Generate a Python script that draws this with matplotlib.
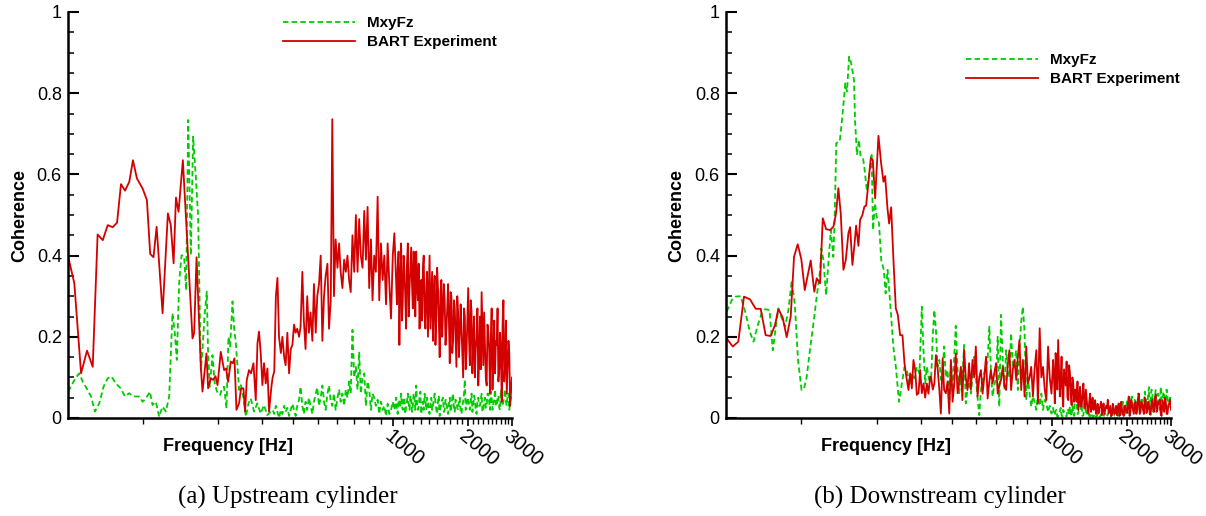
import matplotlib
matplotlib.use("Agg")
import matplotlib.pyplot as plt
from matplotlib.ticker import FixedLocator, NullFormatter
from matplotlib.lines import Line2D

plt.rcParams['font.family'] = ['Liberation Sans', 'DejaVu Sans']

# ---- common frequency bins above 330 Hz (shared by all four curves)
freq_hi = [330, 335, 340, 345, 350, 356, 361, 367, 372, 378, 384, 390, 396,
           402, 408, 414, 421, 427, 434, 440, 447, 454, 461, 468, 476, 483, 491, 498,
           506, 514, 522, 530, 538, 547, 555, 564, 572, 581, 590,
           600, 609, 618, 628, 638, 648, 658, 668, 678, 689,
           700, 711, 722, 733, 744, 756, 768, 780, 792,
           804, 817, 829, 842, 855, 869, 882, 896,
           910, 924, 939, 953, 968, 983, 999,
           1014, 1030, 1046, 1062, 1079, 1096, 1113, 1130, 1148, 1166, 1184,
           1202, 1221, 1240, 1259, 1279, 1299, 1319, 1340, 1361, 1382,
           1403, 1425, 1447, 1470, 1493, 1516, 1540, 1564, 1588,
           1613, 1638, 1664, 1690, 1716, 1743, 1770, 1797,
           1825, 1854, 1883, 1912, 1942, 1972,
           2003, 2034, 2066, 2098, 2131, 2164, 2198,
           2232, 2267, 2302, 2338, 2375,
           2412, 2449, 2487, 2526, 2566,
           2606, 2646, 2688, 2729, 2772,
           2815, 2859, 2904, 2949, 3000]

# extra bins between the ones above, 1000-3000 Hz, where the spectra get dense
freq_mid = [1022, 1038, 1054, 1070, 1087, 1104, 1121, 1139, 1157, 1175, 1193,
            1211, 1230, 1249, 1269, 1289, 1309, 1329, 1350, 1371, 1392,
            1414, 1436, 1458, 1481, 1504, 1528, 1552, 1576, 1600,
            1625, 1651, 1677, 1703, 1729, 1756, 1783, 1811,
            1839, 1868, 1897, 1927, 1957, 1987,
            2018, 2050, 2082, 2114, 2147, 2181, 2215,
            2249, 2284, 2320, 2356, 2393,
            2430, 2468, 2506, 2546, 2586,
            2626, 2667, 2708, 2750, 2793,
            2837, 2881, 2926, 2975]

# ---- (a) upstream cylinder, BART experiment
up_exp_f_lo = [50, 53, 56.4, 59.6, 62.8, 65.7, 68.9, 72.1, 75.5, 78.6, 81.5, 84.6, 88, 91,
               94.4, 99.5, 103.5, 106.7, 110, 113.2, 119.6, 125.6, 129, 132.4, 135.3, 138.6,
               144.2, 157.6, 160, 163.6, 170.2, 172.8, 176.5, 179.3, 182, 186.6, 190.5, 194.9,
               198.5, 204.6, 210.9, 214.8, 218.8, 224.3, 228.5, 232.1, 236.4, 242.1, 246.6,
               252.1, 255.9, 260, 265.5, 270.4, 276.5, 282.4, 286.9, 291.1, 295.7, 300.3,
               304.8, 309.6, 314.5, 319.2, 326.3]
up_exp_c_lo = [0.399, 0.332, 0.110, 0.166, 0.126, 0.452, 0.438, 0.475, 0.470, 0.481, 0.576,
               0.560, 0.582, 0.635, 0.590, 0.565, 0.537, 0.404, 0.396, 0.471, 0.258, 0.504,
               0.475, 0.381, 0.543, 0.508, 0.635, 0.196, 0.209, 0.396, 0.126, 0.065, 0.118,
               0.159, 0.073, 0.098, 0.094, 0.103, 0.081, 0.163, 0.118, 0.122, 0.089, 0.139,
               0.135, 0.147, 0.020, 0.036, 0.073, 0.073, 0.016, 0.094, 0.118, 0.110, 0.135,
               0.044, 0.184, 0.213, 0.159, 0.081, 0.135, 0.085, 0.122, 0.016, 0.077]
up_exp_c_hi = [0.10, 0.115, 0.30, 0.345, 0.20, 0.16, 0.20, 0.15, 0.13, 0.21, 0.11, 0.17, 0.18,
               0.23, 0.21, 0.22, 0.20, 0.225, 0.36, 0.24, 0.17, 0.30, 0.21, 0.26, 0.19, 0.33, 0.21, 0.30,
               0.33, 0.40, 0.19, 0.30, 0.35, 0.38, 0.22, 0.29, 0.736, 0.30, 0.44,
               0.37, 0.43, 0.36, 0.32, 0.39, 0.36, 0.40, 0.34, 0.31, 0.45,
               0.36, 0.50, 0.36, 0.49, 0.40, 0.37, 0.51, 0.39, 0.52,
               0.32, 0.44, 0.29, 0.40, 0.36, 0.545, 0.29, 0.43,
               0.34, 0.40, 0.28, 0.43, 0.33, 0.245, 0.40,
               0.455, 0.34, 0.37, 0.18, 0.43, 0.29, 0.36, 0.22, 0.43, 0.32, 0.42,
               0.27, 0.36, 0.41, 0.29, 0.22, 0.34, 0.37, 0.26, 0.32, 0.20,
               0.40, 0.29, 0.19, 0.35, 0.25, 0.32, 0.15, 0.34, 0.26,
               0.29, 0.22, 0.33, 0.135, 0.30, 0.19, 0.27, 0.126,
               0.26, 0.21, 0.22, 0.10, 0.25, 0.16,
               0.32, 0.13, 0.26, 0.19, 0.10, 0.20, 0.08,
               0.25, 0.31, 0.13, 0.18, 0.08,
               0.21, 0.06, 0.27, 0.15, 0.11,
               0.18, 0.09, 0.21, 0.04, 0.29,
               0.13, 0.06, 0.19, 0.03, 0.10]
up_exp_c_mid = [0.40, 0.28, 0.41, 0.33, 0.24, 0.40, 0.30, 0.38, 0.25, 0.37, 0.33,
                0.41, 0.25, 0.33, 0.38, 0.30, 0.24, 0.40, 0.22, 0.36, 0.30,
                0.22, 0.36, 0.30, 0.18, 0.37, 0.24, 0.31, 0.20, 0.33,
                0.18, 0.27, 0.24, 0.31, 0.16, 0.29, 0.20, 0.30,
                0.15, 0.28, 0.17, 0.27, 0.12, 0.24,
                0.20, 0.29, 0.11, 0.25, 0.17, 0.27, 0.14,
                0.12, 0.22, 0.26, 0.10, 0.23,
                0.17, 0.20, 0.07, 0.24, 0.19,
                0.27, 0.12, 0.16, 0.23, 0.09,
                0.24, 0.12, 0.16, 0.07]

# ---- (a) upstream cylinder, MxyFz
up_sim_f_lo = [50, 53.8, 55.5, 57.3, 59.9, 61.8, 64.1, 66.7, 69.4, 72.1, 74.7, 77.7, 81.4,
               84.5, 87.9, 91.5, 96.4, 99.5, 102.5, 106.4, 109, 112.4, 115.9, 119.5, 123.3,
               127.1, 131, 133.9, 136.4, 139.3, 142.4, 145.9, 148.6, 151.5, 155.2, 158.5,
               162.5, 166, 170.2, 172.8, 176, 179.8, 182, 184.8, 189.5, 193.5, 198.5, 203.4,
               207, 210.9, 215.6, 219.6, 223, 227.9, 231.4, 235, 238.8, 242.4, 246.2, 252.4,
               257.8, 264.1, 269.7, 277.9, 286.6, 295.6, 304.8, 314, 324.5]
up_sim_c_lo = [0.065, 0.10, 0.11, 0.089, 0.069, 0.053, 0.016, 0.036, 0.077, 0.098, 0.102,
               0.085, 0.073, 0.053, 0.061, 0.053, 0.053, 0.040, 0.048, 0.065, 0.032, 0.040,
               0.003, 0.028, 0.016, 0.053, 0.258, 0.209, 0.143, 0.332, 0.401, 0.397, 0.315,
               0.734, 0.401, 0.693, 0.594, 0.496, 0.118, 0.167, 0.25, 0.311, 0.159, 0.077,
               0.155, 0.085, 0.061, 0.057, 0.073, 0.077, 0.024, 0.200, 0.176, 0.287, 0.221,
               0.184, 0.126, 0.069, 0.081, 0.048, 0.003, 0.036, 0.048, 0.016, 0.036, 0.011,
               0.032, 0.007, 0.016]
up_sim_c_hi = [0.02, 0.01, 0.03, 0.015, 0.0, 0.02, 0.01, 0.03, 0.015, 0.025, 0.005, 0.02, 0.035,
               0.02, 0.005, 0.03, 0.045, 0.077, 0.03, 0.01, 0.04, 0.02, 0.05, 0.03, 0.01, 0.04, 0.06, 0.075,
               0.03, 0.05, 0.08, 0.04, 0.02, 0.06, 0.08, 0.04, 0.03, 0.06, 0.02,
               0.05, 0.07, 0.04, 0.06, 0.03, 0.07, 0.05, 0.09, 0.06, 0.217,
               0.10, 0.126, 0.07, 0.163, 0.06, 0.10, 0.11, 0.03, 0.09,
               0.07, 0.02, 0.06, 0.05, 0.03, 0.045, 0.01, 0.04,
               0.02, 0.03, 0.005, 0.035, 0.01, 0.02, 0.04,
               0.02, 0.05, 0.01, 0.04, 0.06, 0.02, 0.05, 0.03, 0.06, 0.02, 0.045,
               0.03, 0.05, 0.08, 0.02, 0.05, 0.01, 0.04, 0.06, 0.02, 0.04,
               0.01, 0.05, 0.03, 0.06, 0.02, 0.04, 0.005, 0.035, 0.05,
               0.02, 0.04, 0.01, 0.05, 0.03, 0.06, 0.015, 0.04,
               0.02, 0.05, 0.01, 0.04, 0.094, 0.03,
               0.05, 0.02, 0.06, 0.03, 0.045, 0.01, 0.05,
               0.03, 0.06, 0.02, 0.05, 0.03,
               0.06, 0.02, 0.05, 0.035, 0.07,
               0.03, 0.055, 0.02, 0.06, 0.04,
               0.07, 0.03, 0.06, 0.04, 0.07]
up_sim_c_mid = [0.035, 0.015, 0.045, 0.025, 0.03, 0.05, 0.01, 0.04, 0.035, 0.055, 0.015,
                0.06, 0.02, 0.04, 0.03, 0.065, 0.025, 0.02, 0.045, 0.05, 0.015,
                0.035, 0.02, 0.045, 0.04, 0.01, 0.055, 0.025, 0.045, 0.015,
                0.045, 0.02, 0.035, 0.015, 0.05, 0.02, 0.045, 0.025,
                0.04, 0.015, 0.03, 0.06, 0.02, 0.045,
                0.03, 0.04, 0.015, 0.055, 0.02, 0.04, 0.03,
                0.045, 0.015, 0.04, 0.025, 0.06,
                0.04, 0.065, 0.02, 0.045, 0.03,
                0.05, 0.025, 0.07, 0.03, 0.055,
                0.04, 0.06, 0.02, 0.05]

# ---- (b) downstream cylinder, BART experiment
dn_exp_f_lo = [50.3, 53.2, 56, 59, 62.4, 65.7, 68.8, 72, 75.4, 78.5, 80.9, 84.2, 87.4, 90.7,
               93.5, 96.7, 100, 103.2, 109, 112.7, 115.2, 118.8, 121.8, 125.6, 130.2, 134.3,
               137.6, 140.6, 143.7, 147.3, 150.5, 154.2, 156.6, 160, 163, 165.5, 169.1, 171.7,
               175.4, 178.7, 181.5, 185.4, 189.5, 193, 197.2, 203.3, 208.4, 212.9, 216.2,
               220.9, 224.3, 228.5, 233.4, 238.5, 243, 248.2, 253.6, 258.3, 263.9, 268,
               272.2, 276.4, 280.6, 285, 289.4, 293.9, 298.4, 303, 307.7, 312.5, 317.3, 322,
               327.2]
dn_exp_c_lo = [0.196, 0.176, 0.188, 0.299, 0.292, 0.269, 0.269, 0.204, 0.202, 0.229, 0.268,
               0.248, 0.199, 0.250, 0.397, 0.428, 0.391, 0.315, 0.388, 0.311, 0.344, 0.332,
               0.492, 0.465, 0.463, 0.471, 0.504, 0.566, 0.504, 0.365, 0.389, 0.455, 0.470,
               0.377, 0.426, 0.474, 0.424, 0.488, 0.500, 0.521, 0.523, 0.582, 0.640, 0.636,
               0.541, 0.695, 0.627, 0.582, 0.596, 0.516, 0.479, 0.519, 0.389, 0.270, 0.254,
               0.204, 0.204, 0.135, 0.094, 0.069, 0.110, 0.073, 0.143, 0.118, 0.057, 0.061,
               0.118, 0.061, 0.085, 0.05, 0.085, 0.06, 0.102]
dn_exp_c_hi = [0.10, 0.07, 0.085, 0.155, 0.126, 0.07, 0.011, 0.147, 0.069, 0.061, 0.09, 0.011, 0.143,
               0.04, 0.08, 0.159, 0.061, 0.09, 0.126, 0.044, 0.167, 0.10, 0.069, 0.135, 0.07, 0.143, 0.10, 0.176,
               0.053, 0.10, 0.118, 0.06, 0.10, 0.151, 0.048, 0.09, 0.118, 0.085, 0.11,
               0.135, 0.06, 0.08, 0.094, 0.126, 0.08, 0.069, 0.13, 0.167, 0.069,
               0.12, 0.143, 0.094, 0.15, 0.192, 0.069, 0.143, 0.053, 0.176,
               0.085, 0.10, 0.126, 0.053, 0.12, 0.167, 0.036, 0.221,
               0.10, 0.126, 0.07, 0.044, 0.176, 0.10, 0.06,
               0.143, 0.036, 0.12, 0.192, 0.053, 0.151, 0.028, 0.10, 0.139, 0.044, 0.11,
               0.032, 0.085, 0.069, 0.04, 0.02, 0.077, 0.028, 0.085, 0.024, 0.044,
               0.011, 0.06, 0.03, 0.02, 0.044, 0.02, 0.011, 0.028, 0.007,
               0.036, 0.02, 0.024, 0.011, 0.03, 0.007, 0.025, 0.015,
               0.007, 0.036, 0.012, 0.02, 0.005, 0.03,
               0.012, 0.053, 0.015, 0.03, 0.01, 0.04, 0.02,
               0.06, 0.015, 0.035, 0.01, 0.044,
               0.02, 0.03, 0.008, 0.045, 0.015,
               0.057, 0.02, 0.035, 0.01, 0.044,
               0.015, 0.04, 0.01, 0.036, 0.02]
dn_exp_c_mid = [0.10, 0.16, 0.07, 0.13, 0.09, 0.06, 0.12, 0.08, 0.05, 0.13, 0.06,
                0.10, 0.04, 0.07, 0.09, 0.05, 0.03, 0.06, 0.04, 0.07, 0.02,
                0.04, 0.015, 0.05, 0.03, 0.01, 0.035, 0.025, 0.04, 0.02,
                0.01, 0.03, 0.045, 0.02, 0.005, 0.035, 0.01, 0.03,
                0.025, 0.005, 0.04, 0.01, 0.03, 0.015,
                0.035, 0.005, 0.045, 0.02, 0.035, 0.01, 0.05,
                0.01, 0.04, 0.02, 0.05, 0.012,
                0.04, 0.01, 0.035, 0.02, 0.05,
                0.015, 0.04, 0.045, 0.005, 0.03,
                0.05, 0.01, 0.03, 0.045]

# ---- (b) downstream cylinder, MxyFz
dn_sim_f_lo = [50.3, 52.8, 54.5, 57.2, 59.9, 62.2, 64.4, 66.7, 69.4, 71.6, 74.6, 76.9, 79.4,
               81, 83.6, 86.1, 88.8, 91.6, 94.1, 97, 100.2, 102.5, 105, 108.2, 111.8, 115.2,
               118.9, 120.2, 122.5, 125.6, 128.2, 131.2, 134.2, 135.8, 137.9, 142.4, 146,
               149.8, 152.2, 155.2, 158.2, 162.3, 163.9, 166.8, 169.9, 172.2, 176.4, 178.4,
               182.6, 186.2, 190.9, 193.4, 196.9, 200, 204.4, 208.6, 213.5, 217.2, 221.1,
               225, 229.6, 233.1, 238.6, 241.8, 245.6, 258.3, 263.9, 270.4, 276.4, 282.4,
               289.4, 296.5, 303, 307.7, 312.5, 317.3, 324.2]
dn_sim_c_lo = [0.262, 0.291, 0.299, 0.300, 0.258, 0.213, 0.188, 0.225, 0.258, 0.268, 0.266,
               0.167, 0.233, 0.270, 0.245, 0.225, 0.266, 0.340, 0.282, 0.143, 0.069, 0.073,
               0.10, 0.167, 0.233, 0.299, 0.365, 0.418, 0.389, 0.303, 0.381, 0.463, 0.397,
               0.484, 0.677, 0.681, 0.746, 0.824, 0.804, 0.890, 0.874, 0.833, 0.734, 0.648,
               0.685, 0.648, 0.640, 0.619, 0.562, 0.594, 0.652, 0.463, 0.529, 0.496, 0.479,
               0.389, 0.365, 0.307, 0.365, 0.307, 0.233, 0.176, 0.126, 0.085, 0.040, 0.126,
               0.118, 0.085, 0.110, 0.098, 0.126, 0.110, 0.274, 0.167, 0.085, 0.126, 0.094]
dn_sim_c_hi = [0.094, 0.20, 0.266, 0.217, 0.126, 0.143, 0.094, 0.11, 0.176, 0.10, 0.118, 0.044, 0.135,
               0.077, 0.15, 0.227, 0.118, 0.061, 0.094, 0.085, 0.18, 0.036, 0.069, 0.09, 0.06, 0.10, 0.151, 0.10,
               0.05, 0.007, 0.069, 0.094, 0.11, 0.126, 0.143, 0.225, 0.118, 0.053, 0.08,
               0.10, 0.20, 0.028, 0.254, 0.143, 0.069, 0.167, 0.12, 0.10, 0.209,
               0.126, 0.14, 0.167, 0.069, 0.167, 0.237, 0.274, 0.209, 0.044,
               0.10, 0.06, 0.028, 0.053, 0.04, 0.02, 0.06, 0.03,
               0.06, 0.02, 0.045, 0.036, 0.015, 0.03, 0.011,
               0.025, 0.007, 0.02, 0.005, 0.016, 0.007, 0.02, 0.012, 0.004, 0.02, 0.028,
               0.004, 0.015, 0.06, 0.036, 0.011, 0.073, 0.028, 0.007, 0.028, 0.007,
               0.015, 0.004, 0.012, 0.003, 0.01, 0.004, 0.01, 0.003, 0.008,
               0.004, 0.01, 0.005, 0.012, 0.006, 0.01, 0.02, 0.008,
               0.02, 0.01, 0.028, 0.012, 0.03, 0.015,
               0.044, 0.02, 0.035, 0.053, 0.02, 0.04, 0.015,
               0.06, 0.03, 0.045, 0.02, 0.05,
               0.03, 0.076, 0.04, 0.065, 0.025,
               0.069, 0.035, 0.05, 0.077, 0.03,
               0.06, 0.02, 0.053, 0.03, 0.045]
dn_sim_c_mid = [0.01, 0.018, 0.003, 0.012, 0.025, 0.004, 0.015, 0.006, 0.022, 0.008, 0.01,
                0.03, 0.005, 0.045, 0.01, 0.04, 0.02, 0.005, 0.035, 0.012, 0.02,
                0.005, 0.01, 0.002, 0.008, 0.003, 0.012, 0.004, 0.009, 0.002,
                0.012, 0.003, 0.008, 0.015, 0.004, 0.018, 0.006, 0.012,
                0.005, 0.02, 0.01, 0.04, 0.008, 0.025,
                0.03, 0.01, 0.05, 0.025, 0.045, 0.01, 0.06,
                0.02, 0.045, 0.015, 0.065, 0.025,
                0.055, 0.02, 0.07, 0.015, 0.05,
                0.025, 0.06, 0.02, 0.045, 0.065,
                0.03, 0.07, 0.025, 0.055]

# axis ticks
x_major = [1000, 2000, 3000]
x_major_labels = ['1000', '2000', '3000']
x_minor = [100, 200, 300, 400, 500, 600, 700, 800, 900,
           1100, 1200, 1300, 1400, 1500, 1600, 1700, 1800, 1900,
           2100, 2200, 2300, 2400, 2500, 2600, 2700, 2800, 2900]
y_major = [0, 0.2, 0.4, 0.6, 0.8, 1]
y_major_labels = ['0', '0.2', '0.4', '0.6', '0.8', '1']
y_minor = [0.05, 0.1, 0.15, 0.25, 0.3, 0.35, 0.45, 0.5, 0.55,
           0.65, 0.7, 0.75, 0.85, 0.9, 0.95]

RED = '#d40000'
GREEN = '#00cc00'
DASH = (3, 1.8)
LW = 1.3


def join(f_lo, c_lo, c_hi, c_mid):
    pts = sorted(zip(f_lo + freq_hi + freq_mid, c_lo + c_hi + c_mid))
    return [p[0] for p in pts], [p[1] for p in pts]


fig = plt.figure(figsize=(12.06, 5.16), dpi=100)
ax_a = fig.add_axes([68 / 1206, 1 - 418 / 516, 444 / 1206, 406 / 516])
ax_b = fig.add_axes([726 / 1206, 1 - 418 / 516, 445 / 1206, 406 / 516])


def draw(ax, sim, exp, leg_xy, ylab_x):
    ax.plot(sim[0], sim[1], color=GREEN, lw=LW, dashes=DASH)
    ax.plot(exp[0], exp[1], color=RED, lw=LW)
    ax.set_xscale('log')
    ax.set_xlim(50, 3000)
    ax.set_ylim(0, 1)
    for s in ['top', 'right']:
        ax.spines[s].set_visible(False)
    for s in ['left', 'bottom']:
        ax.spines[s].set_linewidth(1.8)

    ax.set_xticks(x_major, labels=x_major_labels)
    ax.xaxis.set_minor_locator(FixedLocator(x_minor))
    ax.xaxis.set_minor_formatter(NullFormatter())
    ax.tick_params(axis='x', which='major', direction='out', length=5.8, width=1.2,
                   labelsize=14.5, pad=0.5)
    ax.tick_params(axis='x', which='minor', direction='out', length=4, width=1.0)
    for lbl in ax.get_xticklabels():
        lbl.set_rotation(-40)
        lbl.set_ha('left')
        lbl.set_va('top')
        lbl.set_rotation_mode('anchor')

    ax.set_yticks(y_major, labels=y_major_labels)
    ax.yaxis.set_minor_locator(FixedLocator(y_minor))
    ax.tick_params(axis='y', which='major', direction='in', length=7.7, width=1.5,
                   labelsize=13, pad=4.5)
    ax.tick_params(axis='y', which='minor', direction='in', length=4, width=1.1)

    ax.set_xlabel('Frequency [Hz]', fontsize=13, fontweight='bold')
    ax.xaxis.set_label_coords(0.36, -0.05)
    ax.set_ylabel('Coherence', fontsize=13, fontweight='bold')
    ax.yaxis.set_label_coords(ylab_x, 0.5)

    handles = [Line2D([], [], color=GREEN, lw=LW, dashes=DASH),
               Line2D([], [], color=RED, lw=LW)]
    ax.legend(handles, ['MxyFz', 'BART Experiment'], loc='upper left',
              bbox_to_anchor=leg_xy, frameon=False, handlelength=4.7,
              handletextpad=0.8, labelspacing=0.33, borderpad=0, borderaxespad=0,
              prop={'weight': 'bold', 'size': 11})


draw(ax_a, join(up_sim_f_lo, up_sim_c_lo, up_sim_c_hi, up_sim_c_mid),
     join(up_exp_f_lo, up_exp_c_lo, up_exp_c_hi, up_exp_c_mid), (0.484, 0.99), -0.090)
draw(ax_b, join(dn_sim_f_lo, dn_sim_c_lo, dn_sim_c_hi, dn_sim_c_mid),
     join(dn_exp_f_lo, dn_exp_c_lo, dn_exp_c_hi, dn_exp_c_mid), (0.539, 0.898), -0.092)

fig.text(288 / 1206, 1 - 497 / 516, '(a) Upstream cylinder', family='Liberation Serif',
         fontsize=18, ha='center', va='center')
fig.text(940 / 1206, 1 - 497 / 516, '(b) Downstream cylinder', family='Liberation Serif',
         fontsize=18, ha='center', va='center')

fig.savefig('out.png', dpi=100)
